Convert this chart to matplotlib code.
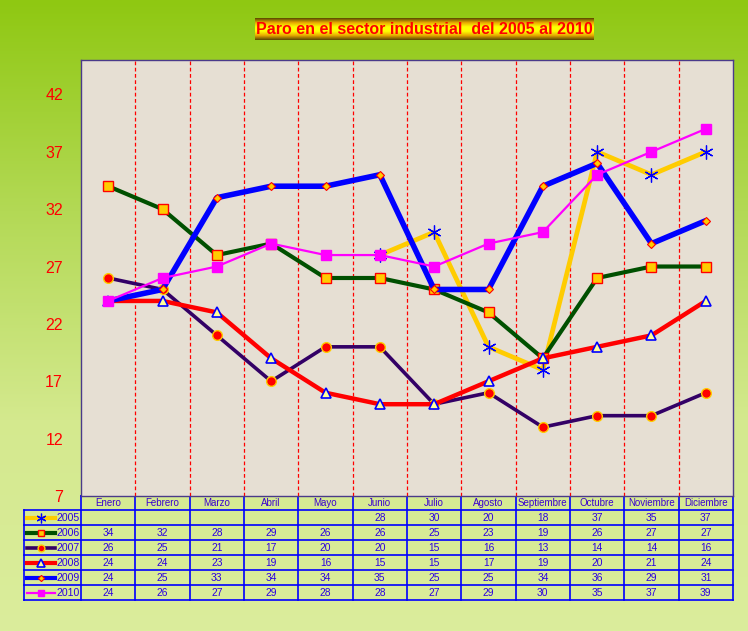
import numpy as np
import matplotlib.pyplot as plt
from matplotlib.colors import LinearSegmentedColormap

plt.rcParams['font.family'] = ['Liberation Sans', 'DejaVu Sans']

# datos del grafico
meses = ['Enero', 'Febrero', 'Marzo', 'Abril', 'Mayo', 'Junio', 'Julio',
         'Agosto', 'Septiembre', 'Octubre', 'Noviembre', 'Diciembre']
anios = ['2005', '2006', '2007', '2008', '2009', '2010']
nan = np.nan
paro_2005 = [nan, nan, nan, nan, nan, 28, 30, 20, 18, 37, 35, 37]
paro_2006 = [34, 32, 28, 29, 26, 26, 25, 23, 19, 26, 27, 27]
paro_2007 = [26, 25, 21, 17, 20, 20, 15, 16, 13, 14, 14, 16]
paro_2008 = [24, 24, 23, 19, 16, 15, 15, 17, 19, 20, 21, 24]
paro_2009 = [24, 25, 33, 34, 34, 35, 25, 25, 34, 36, 29, 31]
paro_2010 = [24, 26, 27, 29, 28, 28, 27, 29, 30, 35, 37, 39]
series = [paro_2005, paro_2006, paro_2007, paro_2008, paro_2009, paro_2010]
y_ticks = [7, 12, 17, 22, 27, 32, 37, 42]

# estilos de cada serie
estilos = [
    dict(color='#ffcc00', lw=3.4, marker=(6, 2, 0), ms=10, mfc='#0000ff', mec='#0000ff', mew=0.9),
    dict(color='#005000', lw=3.0, marker='s', ms=6.5, mfc='#ffcc00', mec='#ff0000', mew=1.0),
    dict(color='#330066', lw=2.6, marker='o', ms=7, mfc='#ff0000', mec='#ffcc00', mew=1.0),
    dict(color='#ff0000', lw=3.2, marker='^', ms=7.5, mfc='#ffff99', mec='#0000ff', mew=1.2),
    dict(color='#0000ff', lw=4.0, marker='D', ms=4.5, mfc='#ffcc00', mec='#ff0000', mew=0.8),
    dict(color='#ff00ff', lw=1.6, marker='s', ms=6.5, mfc='#ff00ff', mec='#ff00ff', mew=1.0),
]

W, H = 748, 631
fig = plt.figure(figsize=(W / 100, H / 100), dpi=100)

# fondo verde degradado
bg = fig.add_axes([0, 0, 1, 1], zorder=0)
fondo = LinearSegmentedColormap.from_list('fondo', ['#8fc812', '#b3d955', '#d4e98e', '#dbed9c'])
bg.imshow(np.linspace(0, 1, 256).reshape(-1, 1), cmap=fondo, aspect='auto',
          extent=[0, W, H, 0])
bg.set_xlim(0, W)
bg.set_ylim(H, 0)
bg.axis('off')

# titulo en caja amarilla
caja = LinearSegmentedColormap.from_list('caja', ['#5a4800', '#e8a800', '#ffff00', '#ffff00', '#e8a800', '#5a4800'])
bg.imshow(np.linspace(0, 1, 64).reshape(-1, 1), cmap=caja, aspect='auto',
          extent=[255, 594, 40, 18], zorder=2)
bg.text(424.5, 29.5, 'Paro en el sector industrial  del 2005 al 2010', color='#ff0000',
        fontsize=11.5, fontweight='bold', ha='center', va='center', zorder=3)

# area de trazado
x0, x1, y0, y1 = 81, 733, 60, 496
ax = fig.add_axes([x0 / W, (H - y1) / H, (x1 - x0) / W, (y1 - y0) / H], zorder=1)
ax.set_facecolor('#e6dfd3')
x = np.arange(len(meses))
for s, st in zip(series, estilos):
    ax.plot(x, s, solid_joinstyle='round', solid_capstyle='round', **st)
for xb in np.arange(0.5, 11.5, 1):
    ax.axvline(xb, color='#ff0000', lw=0.9, ls=(0, (3, 2)), zorder=0)
ax.set_xlim(-0.5, 11.5)
ax.set_ylim(7, 45)
ax.set_xticks([])
ax.set_yticks(y_ticks)
ax.tick_params(axis='y', length=0, pad=13, labelcolor='#ff0000', labelsize=11.5)
for sp in ax.spines.values():
    sp.set_color('#4a3a8a')
    sp.set_linewidth(1.0)

# tabla de datos
azul = '#0000ff'
cw = (x1 - x0) / 12
fila0, fh, nfil = 510, 15, 6
lx0 = 24
bg.plot([x0, x1], [y1, y1], color=azul, lw=1.2, zorder=2)
for k in range(nfil + 1):
    yy = fila0 + k * fh
    bg.plot([lx0, x1], [yy, yy], color=azul, lw=1.2, zorder=2)
for k in range(13):
    xx = x0 + k * cw
    bg.plot([xx, xx], [y1, fila0 + nfil * fh], color=azul, lw=1.2, zorder=2)
bg.plot([lx0, lx0], [fila0, fila0 + nfil * fh], color=azul, lw=1.2, zorder=2)

for i, m in enumerate(meses):
    bg.text(x0 + (i + 0.5) * cw, (y1 + fila0) / 2 + 0.5, m, color='#3a00d0', fontsize=7.0,
            ha='center', va='center', zorder=3)
for r, (anio, s, st) in enumerate(zip(anios, series, estilos)):
    yc = fila0 + (r + 0.5) * fh
    for i, v in enumerate(s):
        if not np.isnan(v):
            bg.text(x0 + (i + 0.5) * cw, yc + 0.5, '%d' % v, color='#2a00e0', fontsize=7.4,
                    ha='center', va='center', zorder=3)
    # muestra de leyenda
    muestra = dict(st)
    muestra['lw'] = min(st['lw'], 3.0)
    muestra['ms'] = st['ms'] * 0.7
    muestra['markevery'] = [1]
    bg.plot([27, 41, 55], [yc, yc, yc], zorder=3, **muestra)
    bg.text(57, yc + 0.5, anio, color='#2a00e0', fontsize=7.6, ha='left', va='center', zorder=3)

fig.savefig('out.png', dpi=100)
